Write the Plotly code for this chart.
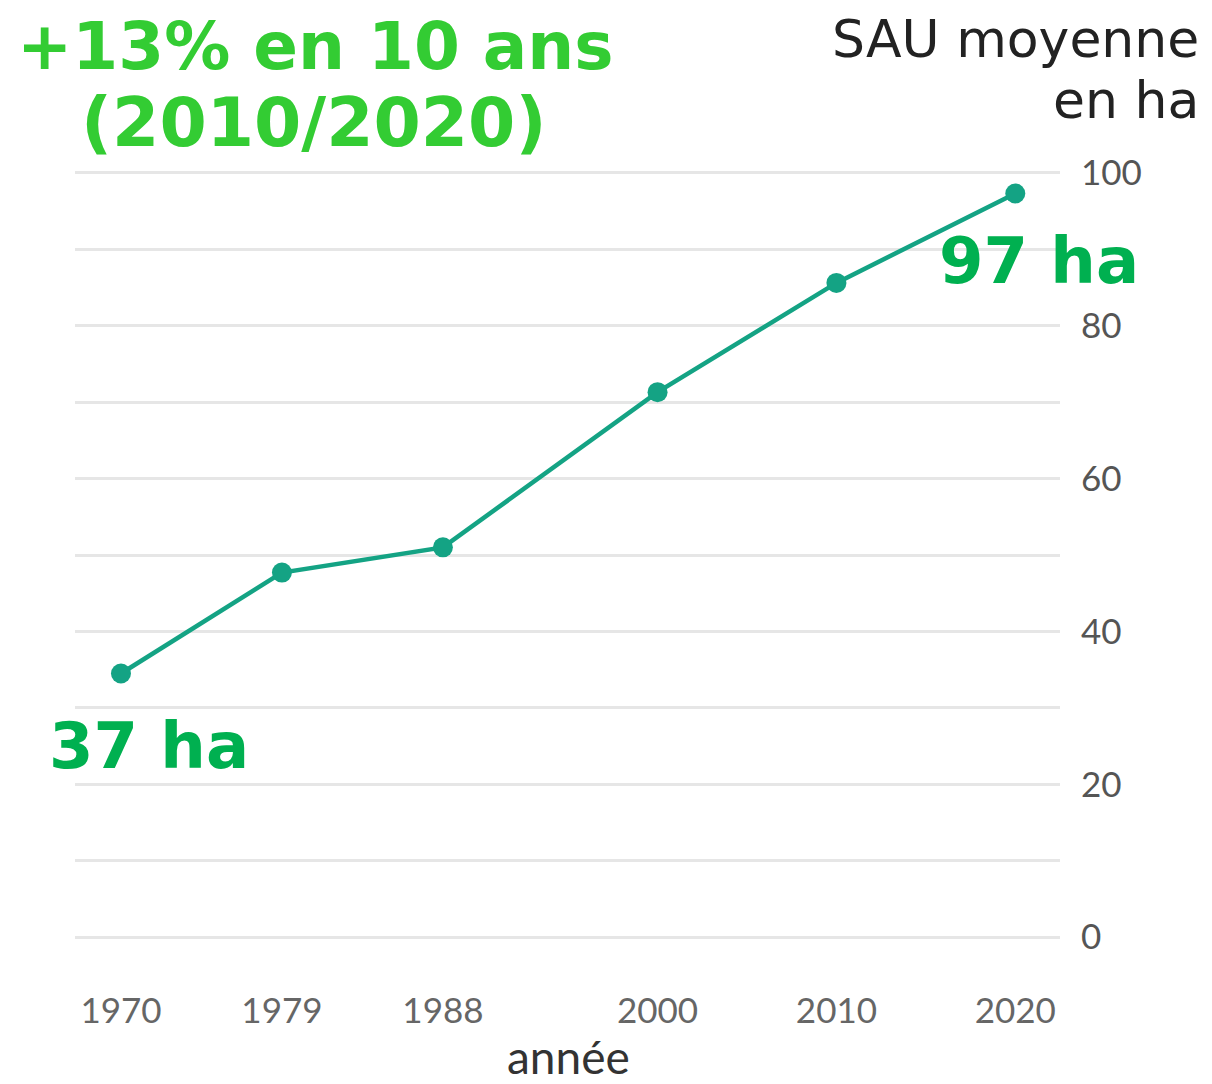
import plotly.graph_objects as go

years = [1970, 1979, 1988, 2000, 2010, 2020]
sau_ha = [34.5, 47.7, 51.0, 71.3, 85.6, 97.3]

y_tickvals = [0, 10, 20, 30, 40, 50, 60, 70, 80, 90, 100]
y_ticktext = ["0", "", "20", "", "40", "", "60", "", "80", "", "100"]
x_ticktext = ["1970", "1979", "1988", "2000", "2010", "2020"]

title_lines = ["+13% en 10 ans", "(2010/2020)"]
unit_lines = ["SAU moyenne", "en ha"]
label_start = "37 ha"
label_end = "97 ha"
x_title = "année"

# page body has an 8px margin: figure is sized to fit the window exactly
OFF = 8
W, H = 1212 - OFF, 1084 - OFF
L, R, T, B = 67, 152, 161.2, 143.2

fig = go.Figure()
fig.add_trace(go.Scatter(
    x=years, y=sau_ha, mode="lines+markers",
    line=dict(color="#14A384", width=4.5),
    marker=dict(color="#14A384", size=20),
    showlegend=False, hoverinfo="x+y",
))

fig.update_layout(
    width=W, height=H,
    margin=dict(l=L, r=R, t=T, b=B, pad=0),
    paper_bgcolor="white", plot_bgcolor="white",
    font=dict(family="Lato", color="#666666"),
    xaxis=dict(
        range=[1967.43, 2022.5], tickvals=years, ticktext=x_ticktext,
        showgrid=False, zeroline=False, showline=False, ticks="",
        tickfont=dict(family="Lato", size=35, color="#666666"),
        ticklabelstandoff=46,
    ),
    yaxis=dict(
        range=[-0.5, 100.5], side="right", tickvals=y_tickvals, ticktext=y_ticktext,
        showgrid=True, gridcolor="#E6E6E6", gridwidth=3,
        zeroline=False, showline=False, ticks="",
        tickfont=dict(family="Lato", size=35, color="#555555"),
        ticklabelstandoff=20,
    ),
)

def px_x(px):
    return (px - OFF - L) / (W - L - R)

def px_y(py):
    return (H - B - (py - OFF)) / (H - T - B)

annos = [
    dict(text="<b>" + title_lines[0] + "</b>", x=px_x(315), y=px_y(47), xanchor="center", yanchor="middle",
         font=dict(family="DejaVu Sans", size=66, color="#33CC33")),
    dict(text="<b>" + title_lines[1] + "</b>", x=px_x(314), y=px_y(123), xanchor="center", yanchor="middle",
         font=dict(family="DejaVu Sans", size=68, color="#33CC33")),
    dict(text=unit_lines[0], x=px_x(1201), y=px_y(39), xanchor="right", yanchor="middle",
         font=dict(family="DejaVu Sans", size=52, color="#222222")),
    dict(text=unit_lines[1], x=px_x(1201), y=px_y(100), xanchor="right", yanchor="middle",
         font=dict(family="DejaVu Sans", size=52, color="#222222")),
    dict(text="<b>" + label_start + "</b>", x=px_x(47), y=px_y(746), xanchor="left", yanchor="middle",
         font=dict(family="DejaVu Sans", size=64, color="#00B050")),
    dict(text="<b>" + label_end + "</b>", x=px_x(937), y=px_y(261), xanchor="left", yanchor="middle",
         font=dict(family="DejaVu Sans", size=64, color="#00B050")),
    dict(text=x_title, x=px_x(568), y=px_y(1056), xanchor="center", yanchor="middle",
         font=dict(family="Lato", size=46, color="#333333")),
]
for a in annos:
    fig.add_annotation(xref="paper", yref="paper", showarrow=False, **a)

fig.write_html("out.html")
